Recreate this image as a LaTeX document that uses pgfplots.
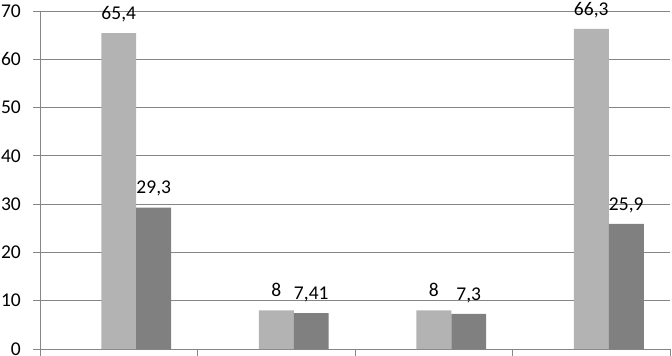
\documentclass[border=0pt]{standalone}
\usepackage{pgfplots}
\pgfplotsset{compat=1.18}
\usepackage{fontspec}
\setmainfont{Carlito}
\definecolor{lightbar}{HTML}{B3B3B3}
\definecolor{darkbar}{HTML}{808080}
\definecolor{gridc}{HTML}{868686}
\begin{document}
\begin{tikzpicture}
\useasboundingbox (-40bp,-7bp) rectangle (632bp,349bp);
\begin{axis}[
  at={(0,0)}, anchor=south west,
  scale only axis,
  width=630bp, height=338bp,
  xmin=-0.5, xmax=3.5,
  ymin=0, ymax=70,
  ytick={0,10,...,70},
  xtick={-0.5,0.5,1.5,2.5,3.5},
  xticklabels={},
  axis lines=left,
  axis line style={-, draw=gridc, line width=0.8bp},
  tick align=outside,
  major tick length=7bp,
  tick style={draw=gridc, line width=0.8bp},
  ymajorgrids,
  grid style={draw=gridc, line width=0.8bp},
  /pgf/number format/assume math mode=true,
  yticklabel style={font=\fontsize{19.5bp}{22bp}\selectfont, anchor=east, inner sep=0pt, xshift=-12bp},
  nodes near coords,
  nodes near coords style={font=\fontsize{19.5bp}{22bp}\selectfont, anchor=base, yshift=13.7bp, /pgf/number format/.cd, use comma, precision=2},
  clip=false,
]
\addplot[ybar, bar width=0.2222, bar shift=0pt, fill=lightbar, draw=none] coordinates {(0,65.4) (1,8) (2,8) (3,66.3)};
\addplot[ybar, bar width=0.2222, bar shift=0pt, fill=darkbar, draw=none] coordinates {(0.2222,29.3) (1.2222,7.41) (2.2222,7.3) (3.2222,25.9)};
\end{axis}
\end{tikzpicture}
\end{document}
